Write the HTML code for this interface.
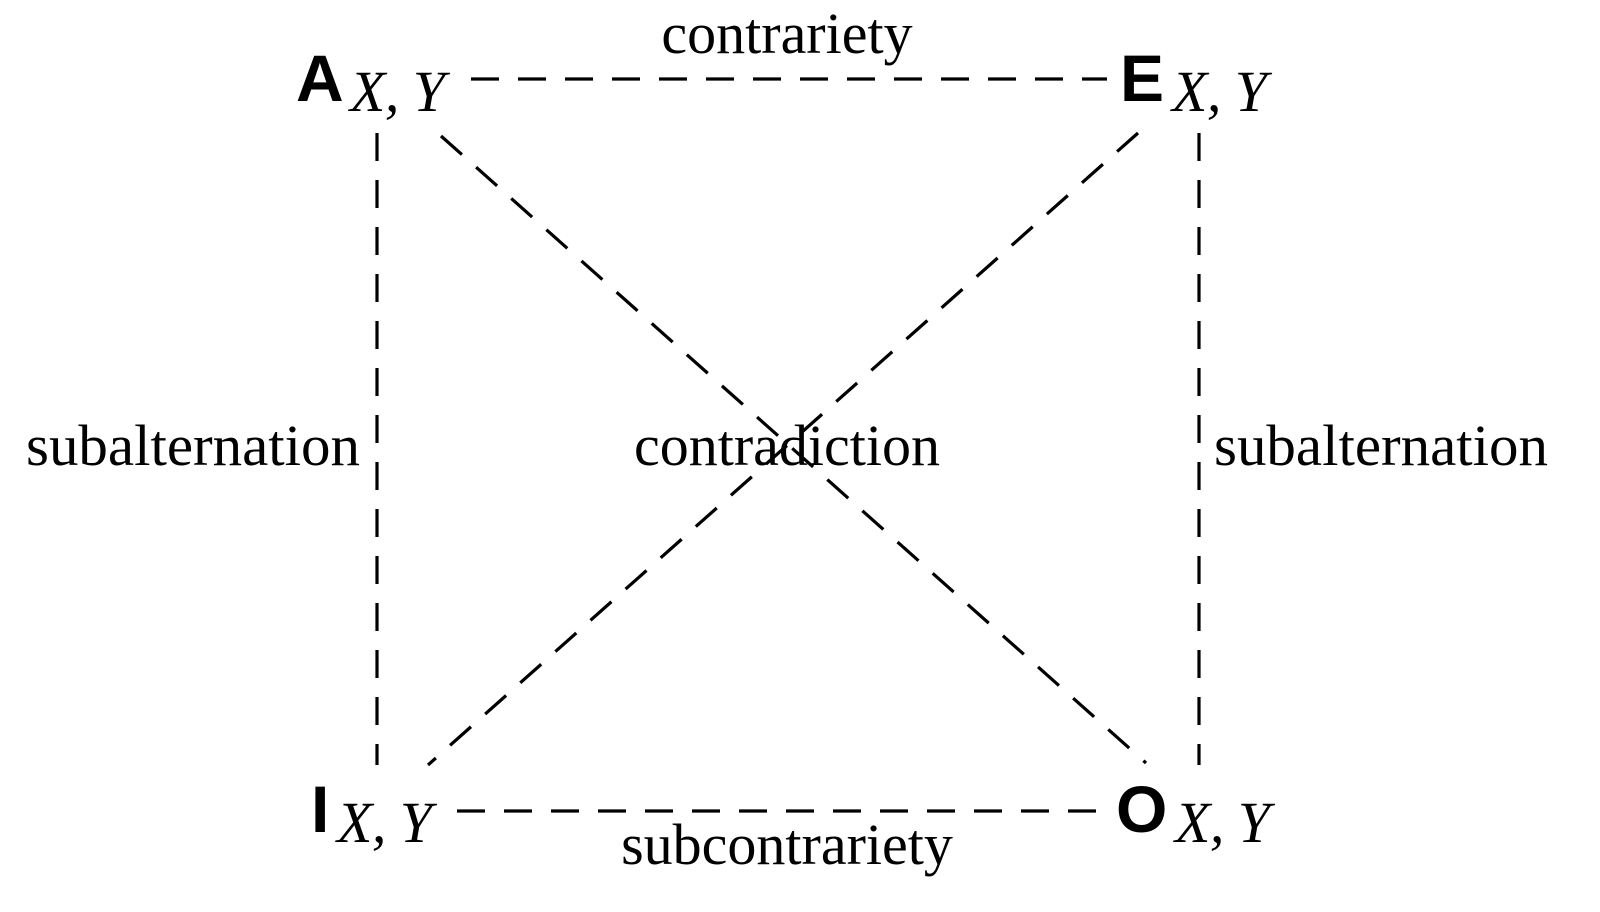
<!DOCTYPE html>
<html><head><meta charset="utf-8"><style>
html,body{margin:0;padding:0;background:#fff;}
svg{display:block;}
.t{font-family:"Liberation Serif",serif;font-size:58px;fill:#000;}
.b{font-family:"Liberation Sans",sans-serif;font-weight:bold;font-size:66px;fill:#000;}
.i{font-family:"Liberation Serif",serif;font-style:italic;font-size:58px;fill:#000;}
</style></head><body>
<svg width="1600" height="912" viewBox="0 0 1600 912">
<g stroke="#000" stroke-width="3.2" stroke-dasharray="28 19" fill="none">
<line x1="471" y1="79" x2="1107" y2="79"/>
<line x1="457" y1="811" x2="1107" y2="811"/>
<line x1="377" y1="133" x2="377" y2="765"/>
<line x1="1199" y1="133" x2="1199" y2="765"/>
<line x1="441" y1="136" x2="1146" y2="763"/>
<line x1="1138" y1="133" x2="428" y2="765"/>
</g>
<text class="t" x="787" y="53" text-anchor="middle">contrariety</text>
<text class="t" x="26" y="465" textLength="334" lengthAdjust="spacingAndGlyphs">subalternation</text>
<text class="t" x="1214" y="465" textLength="334" lengthAdjust="spacingAndGlyphs">subalternation</text>
<text class="t" x="787" y="465" text-anchor="middle">contradiction</text>
<text class="t" x="787" y="864" text-anchor="middle">subcontrariety</text>
<text class="b" x="296" y="101">A</text><text class="i" x="350" y="111" textLength="95" lengthAdjust="spacing">X, Y</text>
<text class="b" x="1120" y="101">E</text><text class="i" x="1172" y="111" textLength="95" lengthAdjust="spacing">X, Y</text>
<text class="b" x="311" y="832">I</text><text class="i" x="337" y="842" textLength="95" lengthAdjust="spacing">X, Y</text>
<text class="b" x="1116" y="832">O</text><text class="i" x="1175" y="842" textLength="95" lengthAdjust="spacing">X, Y</text>
</svg>
</body></html>
